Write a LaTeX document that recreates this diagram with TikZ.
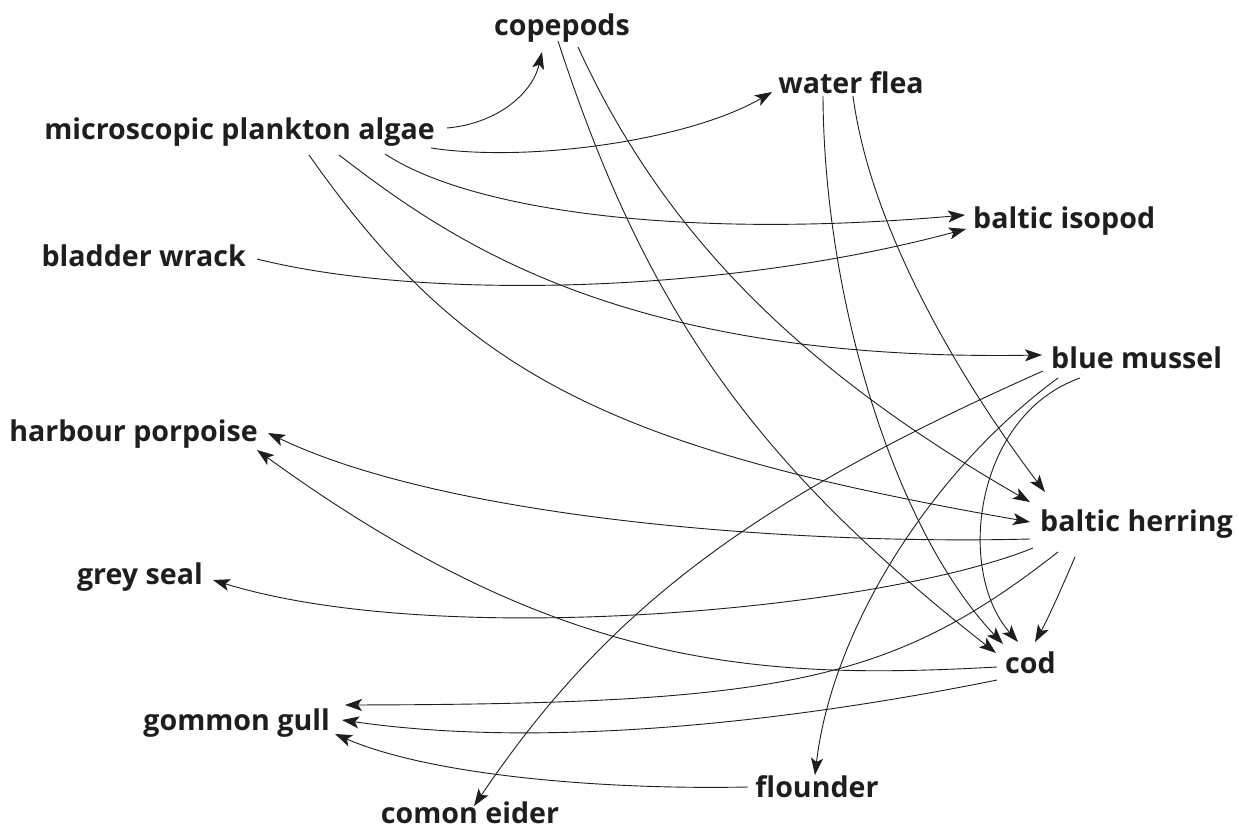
\documentclass[tikz,border=0pt]{standalone}
\usepackage{fontspec}
\setmainfont{Open Sans}
\usetikzlibrary{arrows.meta}
\definecolor{ink}{RGB}{30,30,30}
\begin{document}
\begin{tikzpicture}[x=1pt,y=-1pt,
  lbl/.style={inner sep=0pt, font=\fontsize{28.6}{34}\selectfont\bfseries, text=ink},
  link/.style={draw=ink, line width=0.9pt, -{Stealth[length=17pt,width=12pt,inset=4pt]}}]
\useasboundingbox[fill=white] (0,0) rectangle (1239,834);
% nodes
\node[lbl, anchor=base] (copepods) at (562,36) {copepods};
\node[lbl, anchor=base] (flea) at (851,94) {water flea};
\node[lbl, anchor=base east] (algae) at (435,140) {microscopic plankton algae};
\node[lbl, anchor=base west] (isopod) at (973,229) {baltic isopod};
\node[lbl, anchor=base east] (wrack) at (246,266) {bladder wrack};
\node[lbl, anchor=base west] (mussel) at (1051,368) {blue mussel};
\node[lbl, anchor=base east] (porpoise) at (258,441) {harbour porpoise};
\node[lbl, anchor=base west] (herring) at (1040,531) {baltic herring};
\node[lbl, anchor=base east] (seal) at (203,584) {grey seal};
\node[lbl, anchor=base west] (cod) at (1005,673) {cod};
\node[lbl, anchor=base east] (gull) at (330,730) {gommon gull};
\node[lbl, anchor=base] (flounder) at (817,797) {flounder};
\node[lbl, anchor=base] (eider) at (470,823) {comon eider};
% connectors
\draw[link] ([shift={(12,-12)}]algae.base east) .. controls (495,124) and (532,95) .. ([shift={(-20,16)}]copepods.base);
\draw[link] ([shift={(-4,8)}]algae.base east) .. controls (530,163) and (690,140) .. ([shift={(-79,-2)}]flea.base);
\draw[link] ([shift={(-50,14)}]algae.base east) .. controls (470,210) and (680,240) .. ([shift={(-8,-14)}]isopod.base west);
\draw[link] ([shift={(11,-7)}]wrack.base east) .. controls (420,300) and (720,295) .. ([shift={(-7,0)}]isopod.base west);
\draw[link] ([shift={(-96,15)}]algae.base east) .. controls (450,240) and (620,362) .. ([shift={(-9,-13)}]mussel.base west);
\draw[link] ([shift={(-126,15)}]algae.base east) .. controls (463,374) and (607,448) .. ([shift={(-10,-9)}]herring.base west);
\draw[link] ([shift={(-4,5)}]copepods.base) .. controls (646,311) and (755,464) .. ([shift={(-9,-20)}]cod.base west);
\draw[link] ([shift={(16,11)}]copepods.base) .. controls (663,233) and (799,369) .. ([shift={(-10,-29)}]herring.base west);
\draw[link] ([shift={(-28,2)}]flea.base) .. controls (824,300) and (895,530) .. ([shift={(-2,-29)}]cod.base west);
\draw[link] ([shift={(2,2)}]flea.base) .. controls (872,240) and (975,400) .. ([shift={(5,-39)}]herring.base west);
\draw[link] ([shift={(-8,3)}]mussel.base west) .. controls (748,502) and (606,611) .. ([shift={(4,-17)}]eider.base);
\draw[link] ([shift={(7,10)}]mussel.base west) .. controls (930,472) and (832,630) .. ([shift={(-2,-22)}]flounder.base);
\draw[link] ([shift={(29,10)}]mussel.base west) .. controls (975,415) and (955,570) .. ([shift={(13,-31)}]cod.base west);
\draw[link] ([shift={(-10,8)}]herring.base west) .. controls (800,545) and (450,520) .. ([shift={(10,-8)}]porpoise.base east);
\draw[link] ([shift={(-7,17)}]herring.base west) .. controls (880,610) and (440,650) .. ([shift={(10,-4)}]seal.base east);
\draw[link] ([shift={(18,21)}]herring.base west) .. controls (892,682) and (784,704) .. ([shift={(15,-25)}]gull.base east);
\draw[link] ([shift={(35,26)}]herring.base west) .. controls (1065,580) and (1050,615) .. ([shift={(30,-31)}]cod.base west);
\draw[link] ([shift={(-8,-6)}]cod.base west) .. controls (760,680) and (560,670) .. ([shift={(-1,9)}]porpoise.base east);
\draw[link] ([shift={(-8,7)}]cod.base west) .. controls (800,720) and (550,750) .. ([shift={(12,-10)}]gull.base east);
\draw[link] ([shift={(-69,-10)}]flounder.base) .. controls (600,790) and (430,775) .. ([shift={(5,4)}]gull.base east);
\end{tikzpicture}
\end{document}
